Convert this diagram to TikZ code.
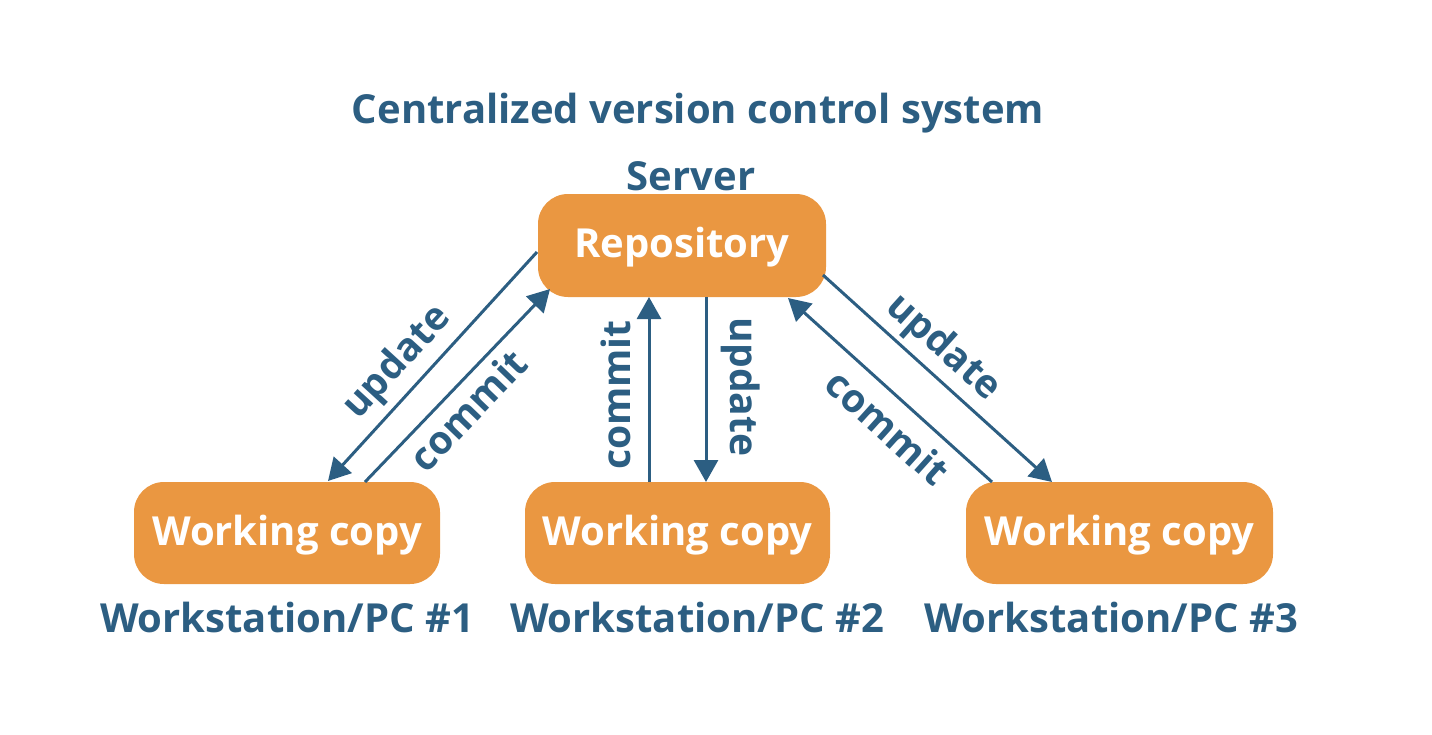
\documentclass[tikz,border=0pt]{standalone}
\usepackage{fontspec}
\setmainfont{Open Sans}[BoldFont={* Bold}]
\usetikzlibrary{arrows.meta}
\definecolor{boxor}{RGB}{234,151,65}
\definecolor{txtbl}{RGB}{44,94,130}
\begin{document}
\begin{tikzpicture}[x=1pt,y=-1pt,
  box/.style={fill=boxor,rounded corners=30pt,text=white,font=\fontsize{40}{46}\selectfont\bfseries,inner sep=0pt,text height=24pt,text depth=0pt},
  lbl/.style={text=txtbl,font=\fontsize{40}{46}\selectfont\bfseries,inner sep=0pt,anchor=base},
  albl/.style={text=txtbl,font=\fontsize{39}{45}\selectfont\bfseries,inner sep=0pt},
  conn/.style={draw=txtbl,line width=3pt,-{Triangle[length=22pt,width=24pt]}}]
\useasboundingbox (0,0) rectangle (1432,734);
\node[lbl] (title) at (698,123) {Centralized version control system};
\node[lbl] (server) at (691,190) {Server};
\node[box,minimum width=288pt,minimum height=103pt] (repo) at (682,245.5) {Repository};
\node[box,minimum width=306pt,minimum height=102pt] (w1) at (287,533) {Working copy};
\node[box,minimum width=305pt,minimum height=102pt] (w2) at (677.5,533) {Working copy};
\node[box,minimum width=307pt,minimum height=102pt] (w3) at (1119.5,533) {Working copy};
\node[lbl] (pc1) at (287,632) {Workstation/PC \#1};
\node[lbl] (pc2) at (697,632) {Workstation/PC \#2};
\node[lbl] (pc3) at (1111,632) {Workstation/PC \#3};
% connectors
\coordinate (a1s) at (537,252); \coordinate (a1e) at (328,481);
\coordinate (a2s) at (365,482); \coordinate (a2e) at (550,289);
\coordinate (a3s) at (649,482); \coordinate (a3e) at (649,297);
\coordinate (a4s) at (706,297); \coordinate (a4e) at (706,482);
\coordinate (a5s) at (823,275); \coordinate (a5e) at (1052,482);
\coordinate (a6s) at (992,482); \coordinate (a6e) at (788,298);
\draw[conn] (a1s) -- (a1e);
\draw[conn] (a2s) -- (a2e);
\draw[conn] (a3s) -- (a3e);
\draw[conn] (a4s) -- (a4e);
\draw[conn] (a5s) -- (a5e);
\draw[conn] (a6s) -- (a6e);
\node[albl,rotate=47.5] (l1) at (398,363) {update};
\node[albl,rotate=46.2] (l2) at (468,410) {commit};
\node[albl,rotate=90] (l3) at (616,395) {commit};
\node[albl,rotate=-90] (l4) at (741,387) {update};
\node[albl,rotate=-42] (l5) at (943,348) {update};
\node[albl,rotate=-42] (l6) at (888,427) {commit};
\end{tikzpicture}
\end{document}
